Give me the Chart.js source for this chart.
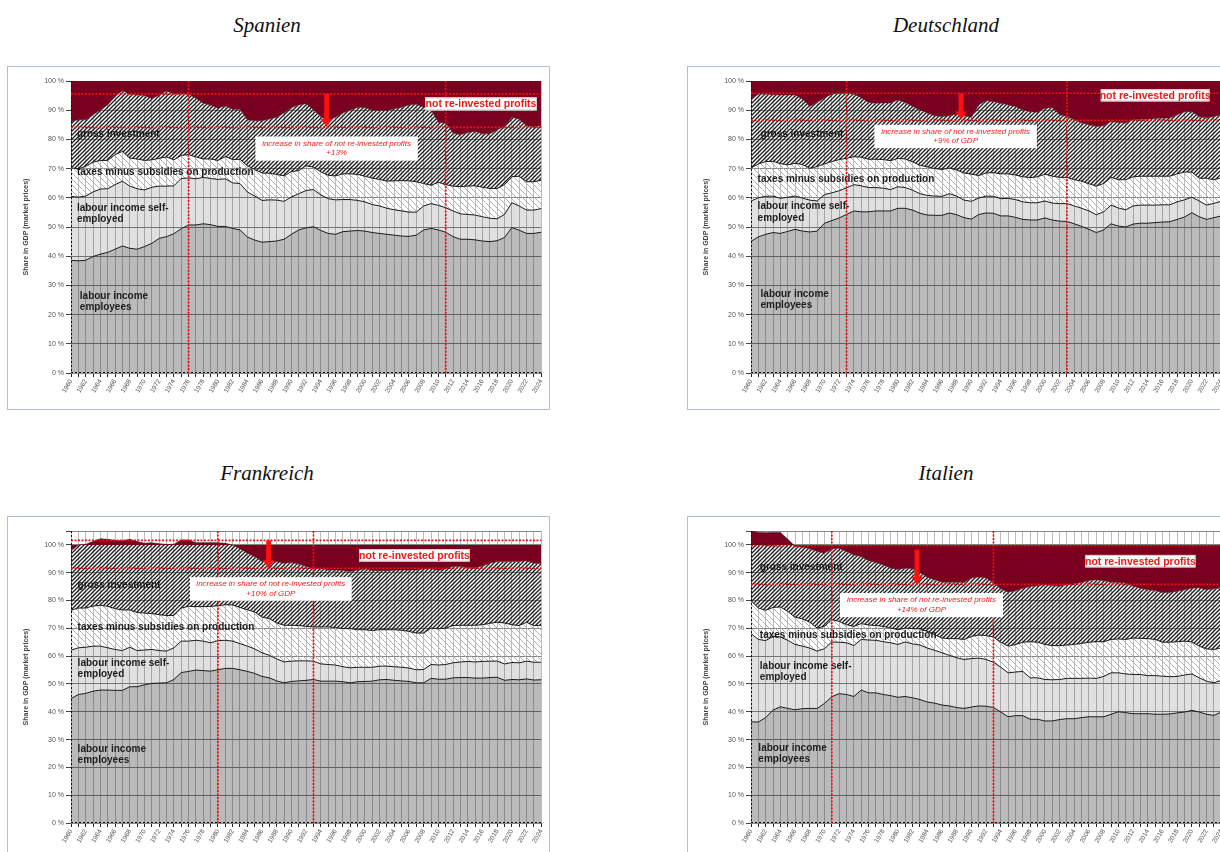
<!DOCTYPE html>
<html>
<head>
<meta charset="utf-8">
<script src="https://cdn.jsdelivr.net/npm/chart.js@4/dist/chart.umd.min.js"></script>
<style>
  html, body { margin: 0; padding: 0; background: #fff; width: 1220px; height: 852px; overflow: hidden; }
  .title { position: absolute; width: 300px; text-align: center; font-family: "Liberation Serif", "DejaVu Serif", serif; font-style: italic; font-size: 21px; color: #111; line-height: 24px; }
  .panel { position: absolute; width: 543px; height: 344px; box-sizing: border-box; border: 1px solid #aebfdc; background: #fff; }
  .panel canvas { display: block; }
</style>
</head>
<body>
<div class="title" style="left:117px; top:13px">Spanien</div>
<div class="title" style="left:796px; top:13px">Deutschland</div>
<div class="title" style="left:117px; top:461px">Frankreich</div>
<div class="title" style="left:796px; top:461px">Italien</div>

<div class="panel" style="left:7px; top:66px"><canvas id="cES" width="541" height="342"></canvas></div>
<div class="panel" style="left:687px; top:66px"><canvas id="cDE" width="541" height="342"></canvas></div>
<div class="panel" style="left:7px; top:516px"><canvas id="cFR" width="541" height="342"></canvas></div>
<div class="panel" style="left:687px; top:516px"><canvas id="cIT" width="541" height="342"></canvas></div>

<script>
// years on the x axis
const years = [
  '1960','1961','1962','1963','1964','1965','1966','1967','1968','1969',
  '1970','1971','1972','1973','1974','1975','1976','1977','1978','1979',
  '1980','1981','1982','1983','1984','1985','1986','1987','1988','1989',
  '1990','1991','1992','1993','1994','1995','1996','1997','1998','1999',
  '2000','2001','2002','2003','2004','2005','2006','2007','2008','2009',
  '2010','2011','2012','2013','2014','2015','2016','2017','2018','2019',
  '2020','2021','2022','2023','2024'
];

// stack boundaries, % of GDP (cumulative from the bottom)
// Spanien
const esEmployees = [
  38.6,38.4,38.6,39.9,40.7,41.3,42.4,43.5,42.7,42.4,
  43.3,44.4,46.1,46.7,47.7,49.4,50.7,50.7,51.1,50.8,
  50.2,50.2,49.5,49.0,46.6,45.5,44.8,45.0,45.2,45.8,
  47.5,49.0,49.7,50.1,48.8,47.8,47.5,48.4,48.6,48.8,
  48.6,48.1,47.8,47.5,47.2,46.9,46.8,47.2,49.0,49.5,
  49.0,48.2,46.7,45.8,45.8,45.6,45.2,45.0,45.3,46.4,
  49.8,48.9,47.8,47.8,48.2
];
const esSelfEmployed = [
  60.5,60.2,60.6,62.0,63.0,63.1,64.5,65.7,64.0,63.1,
  62.7,63.6,64.0,64.0,64.1,66.6,66.8,66.5,67.0,66.6,
  66.3,66.5,65.1,64.9,62.0,60.6,59.1,59.3,59.2,58.8,
  60.3,61.4,62.5,62.8,61.0,59.7,59.3,59.4,59.4,59.1,
  58.6,57.7,57.2,56.4,55.9,55.5,55.1,55.1,57.2,58.0,
  57.4,56.6,55.5,54.5,54.3,54.1,53.5,53.0,52.8,54.3,
  58.3,57.2,55.8,55.8,56.3
];
const esTaxes = [
  70.3,69.9,70.8,72.2,72.8,72.8,74.8,75.9,73.6,73.3,
  72.8,73.0,73.5,74.0,73.0,74.5,74.8,74.0,73.3,73.3,
  72.8,74.1,73.1,73.2,71.0,69.7,68.5,68.4,68.0,67.5,
  69.0,69.3,71.0,70.5,68.9,67.7,67.5,68.2,68.2,68.0,
  67.4,66.7,66.3,65.7,65.8,65.9,65.8,65.5,64.9,64.3,
  65.3,64.5,64.0,63.8,64.0,64.1,63.6,63.2,63.2,64.5,
  67.2,67.4,65.5,65.5,66.0
];
const esInvestment = [
  86.1,86.7,86.7,88.4,90.1,91.8,94.7,96.7,95.5,95.2,
  95.0,93.9,95.2,96.6,95.5,95.5,95.5,94.1,92.4,91.8,
  90.7,91.5,90.3,90.3,86.7,86.4,86.4,87.0,87.6,89.0,
  90.9,91.8,92.2,90.1,87.8,86.4,87.6,89.0,90.1,90.9,
  90.9,90.1,89.9,89.9,90.5,91.0,91.8,92.0,91.0,90.1,
  85.8,85.6,82.2,81.6,82.4,82.7,81.9,81.9,83.3,84.4,
  87.6,86.9,84.7,84.4,84.7
];

// Deutschland
const deEmployees = [
  45.1,46.6,47.5,48.1,47.8,48.5,49.2,48.6,48.3,48.6,
  51.3,52.2,53.1,54.3,55.5,55.2,55.2,55.5,55.5,55.5,
  56.4,56.4,55.8,54.7,54.1,54.0,54.0,54.8,54.2,53.2,
  52.7,54.3,54.8,54.7,53.8,53.8,53.3,52.6,52.4,52.4,
  53.1,52.4,52.0,51.9,51.1,50.2,49.2,48.1,49.0,51.1,
  50.3,50.0,51.0,51.3,51.3,51.5,51.7,51.8,52.6,53.4,
  54.9,53.5,52.6,53.2,53.8
];
const deSelfEmployed = [
  58.9,60.0,60.5,60.6,59.8,60.2,60.6,59.9,59.2,58.9,
  61.1,61.7,62.4,63.4,64.5,64.1,63.5,63.5,63.3,62.8,
  63.8,63.5,62.6,61.4,60.8,60.6,60.5,61.4,60.6,59.2,
  58.8,59.9,60.6,60.5,59.7,59.8,59.4,58.6,58.3,58.3,
  58.9,58.2,58.0,58.0,57.2,56.4,55.5,54.2,55.2,57.5,
  56.5,55.9,57.2,57.5,57.5,57.5,57.6,57.6,58.6,59.3,
  60.2,58.9,57.5,58.1,58.8
];
const deTaxes = [
  70.2,71.6,72.4,72.5,71.7,71.3,71.8,71.4,70.1,70.7,
  71.6,72.4,73.1,73.5,74.1,73.9,73.2,73.2,73.1,72.7,
  73.5,73.3,72.3,71.1,70.6,70.0,69.7,70.2,69.5,68.5,
  68.1,67.6,68.5,68.6,68.2,68.2,67.8,67.2,66.9,67.2,
  68.1,67.4,67.0,67.0,66.2,65.7,64.8,64.0,64.9,67.0,
  66.2,66.2,67.2,67.4,67.4,67.4,67.4,67.4,68.2,68.8,
  68.8,66.7,66.7,66.2,66.8
];
const deInvestment = [
  93.8,95.5,95.5,95.3,95.2,95.2,95.2,93.8,91.3,92.6,
  94.3,95.5,95.8,95.8,95.5,94.3,92.6,92.4,92.5,92.5,
  93.5,92.6,91.3,90.1,89.0,88.1,87.8,88.1,88.6,88.1,
  87.6,91.8,93.3,92.9,92.4,91.8,91.3,90.1,89.5,89.3,
  90.7,90.9,88.4,87.8,86.7,85.6,85.0,84.4,84.7,86.1,
  85.8,85.6,86.7,86.9,86.9,87.2,87.3,87.3,88.4,89.5,
  89.5,87.8,87.3,87.8,88.4
];

// Frankreich
const frEmployees = [
  44.7,46.2,46.6,47.4,47.8,47.8,47.7,47.7,49.0,49.0,
  49.7,50.2,50.3,50.4,51.6,54.1,54.5,55.0,54.8,54.6,
  55.1,55.6,55.6,55.1,54.5,53.8,52.7,52.2,51.1,50.4,
  50.9,51.1,51.3,51.6,51.0,51.0,51.0,50.8,50.4,50.8,
  50.9,51.0,51.5,51.6,51.3,51.1,50.9,50.4,50.4,52.0,
  51.7,51.7,52.2,52.3,52.3,52.1,52.1,52.3,52.4,51.3,
  51.6,51.5,51.8,51.4,51.5
];
const frSelfEmployed = [
  62.1,63.0,63.2,63.6,63.6,63.0,62.4,62.0,63.2,62.0,
  62.2,62.4,62.0,61.8,63.0,65.4,65.4,65.7,65.4,64.8,
  65.6,65.7,65.4,64.5,63.6,62.6,61.2,60.3,59.0,57.9,
  58.2,58.3,58.3,58.2,57.2,57.0,56.8,56.2,55.8,56.0,
  56.0,56.0,56.4,56.4,56.2,56.0,55.7,55.1,55.2,57.0,
  56.8,57.0,57.6,57.9,58.1,57.9,58.1,58.2,58.2,57.2,
  57.7,57.6,58.2,57.8,57.8
];
const frTaxes = [
  76.5,77.3,77.3,78.0,78.3,77.9,77.1,76.6,76.6,75.7,
  75.5,75.3,74.9,74.6,74.6,77.3,77.9,77.8,77.8,77.9,
  78.1,78.5,78.4,77.5,76.7,75.9,74.0,73.5,71.9,71.1,
  71.1,71.0,70.7,70.5,70.5,70.5,70.3,69.9,69.9,69.5,
  69.5,69.2,69.5,69.5,69.5,69.3,68.9,68.3,68.3,70.1,
  69.8,70.1,71.0,71.1,71.1,71.1,71.3,71.8,72.2,71.9,
  71.3,71.0,72.2,71.0,71.1
];
const frInvestment = [
  97.8,100.0,100.2,101.2,102.2,102.0,101.6,101.5,102.0,101.2,
  100.6,100.8,100.4,100.2,100.2,101.8,101.8,100.8,100.8,100.8,
  100.8,100.6,100.0,98.6,97.0,95.8,94.0,93.8,94.0,93.4,
  93.7,93.1,92.2,91.4,91.4,91.0,91.0,90.8,90.4,91.0,
  91.3,90.8,90.7,90.7,90.9,91.0,91.0,91.0,91.3,91.4,
  90.8,91.4,92.2,92.2,91.8,91.8,92.4,93.4,94.0,94.0,
  94.0,94.0,94.3,93.4,93.2
];

// Italien
const itEmployees = [
  36.4,36.3,37.9,40.6,41.8,41.2,40.7,41.1,41.2,41.2,
  43.0,45.4,46.5,46.2,45.5,47.8,46.8,46.8,46.2,45.8,
  45.2,45.5,45.0,44.4,43.5,43.1,42.4,42.1,41.5,41.2,
  41.7,42.1,42.0,41.5,39.9,38.2,38.6,38.6,37.3,37.3,
  36.7,36.7,37.2,37.5,37.5,37.9,38.2,38.2,38.2,39.1,
  40.0,39.7,39.3,39.3,39.3,39.1,39.1,39.2,39.6,39.9,
  40.5,39.9,39.1,38.7,39.9
];
const itSelfEmployed = [
  68.1,66.0,65.6,67.1,66.9,65.7,64.2,63.6,62.9,61.8,
  62.7,65.1,65.0,64.8,63.8,66.0,65.8,65.7,65.2,64.8,
  64.2,65.1,64.4,64.0,62.9,62.1,61.2,60.3,59.4,58.8,
  59.1,59.3,58.8,57.8,56.0,54.0,54.3,54.5,52.2,52.2,
  51.6,51.5,51.6,52.0,52.0,52.0,52.1,52.0,52.7,54.0,
  54.0,53.6,53.4,53.4,53.0,53.0,52.8,52.6,52.7,53.2,
  53.6,52.2,51.0,50.4,51.3
];
const itTaxes = [
  79.9,77.3,76.5,77.5,77.7,76.1,74.0,73.4,72.2,70.1,
  70.7,73.1,72.5,71.3,70.7,71.7,71.2,71.0,70.7,70.1,
  69.5,70.1,69.9,69.8,68.9,67.7,66.5,66.3,66.3,66.0,
  67.1,67.6,67.4,66.9,65.0,63.6,64.2,65.0,65.2,65.0,
  64.2,63.8,63.8,64.0,64.2,64.6,65.0,65.2,65.2,66.0,
  66.2,66.0,66.5,66.4,66.3,66.0,65.0,65.0,65.2,65.4,
  65.1,63.6,62.6,62.4,63.0
];
const itInvestment = [
  105.1,104.5,104.4,104.5,104.5,102.0,99.5,99.2,98.6,97.6,
  97.0,98.6,98.8,97.6,96.4,95.8,94.3,93.8,92.8,91.6,
  91.2,91.6,91.4,90.1,88.3,87.5,86.6,86.6,86.6,86.5,
  88.1,88.5,88.1,86.3,84.2,83.0,83.5,84.4,85.0,85.3,
  85.7,85.4,85.1,85.7,86.0,86.5,87.2,87.5,87.1,86.6,
  86.5,86.3,85.1,84.4,83.9,83.6,82.9,82.9,83.3,83.9,
  84.4,84.6,83.9,84.2,84.5
];

// annotation placement (x in years, y in %)
const esNotes = {
  hLines: [95.6, 84.1], vLines: [1976, 2011],
  arrow: { x: 1994.8, y0: 95.6, y1: 84.3 },
  note: { x0: 1985.1, x1: 2007.2, y0: 81.0, y1: 72.7, text: ['increase in share of not re-invested profits', '+13%'] },
  profits: { x0: 2008.2, x1: 2023.4, y0: 94.4, y1: 89.9 },
  labels: [
    { x: 1960.8, y: 81.9, t: 'gross investment' },
    { x: 1960.8, y: 68.9, t: 'taxes minus subsidies on production' },
    { x: 1960.8, y: 56.4, t: 'labour income self-' },
    { x: 1960.8, y: 52.6, t: 'employed' },
    { x: 1961.2, y: 26.3, t: 'labour income' },
    { x: 1961.2, y: 22.5, t: 'employees' }
  ]
};
const deNotes = {
  hLines: [95.8, 86.5], vLines: [1973, 2003],
  arrow: { x: 1988.6, y0: 95.8, y1: 86.8 },
  note: { x0: 1976.8, x1: 1998.9, y0: 85.0, y1: 77.0, text: ['increase in share of not re-invested profits', '+9% of GDP'] },
  profits: { x0: 2007.6, x1: 2022.4, y0: 97.2, y1: 93.0 },
  labels: [
    { x: 1961.3, y: 81.9, t: 'gross investment' },
    { x: 1960.9, y: 66.3, t: 'taxes minus subsidies on production' },
    { x: 1960.9, y: 57.0, t: 'labour income self-' },
    { x: 1960.9, y: 53.1, t: 'employed' },
    { x: 1961.3, y: 26.9, t: 'labour income' },
    { x: 1961.3, y: 23.1, t: 'employees' }
  ]
};
const frNotes = {
  hLines: [101.6, 91.6], vLines: [1980, 1993],
  arrow: { x: 1986.9, y0: 101.6, y1: 91.6 },
  note: { x0: 1976.2, x1: 1998.2, y0: 88.4, y1: 79.9, text: ['increase in share of not re-invested profits', '+10% of GDP'] },
  profits: { x0: 1999.2, x1: 2014.3, y0: 98.5, y1: 94.0 },
  labels: [
    { x: 1960.9, y: 85.4, t: 'gross investment' },
    { x: 1960.9, y: 70.4, t: 'taxes minus subsidies on production' },
    { x: 1960.9, y: 57.5, t: 'labour income self-' },
    { x: 1960.9, y: 53.5, t: 'employed' },
    { x: 1960.9, y: 26.6, t: 'labour income' },
    { x: 1960.9, y: 22.6, t: 'employees' }
  ]
};
const itNotes = {
  hLines: [99.7, 85.8], vLines: [1971, 1993],
  arrow: { x: 1982.6, y0: 98.3, y1: 85.8 },
  note: { x0: 1972.1, x1: 1994.3, y0: 82.7, y1: 74.0, text: ['increase in share of not re-invested profits', '+14% of GDP'] },
  profits: { x0: 2005.5, x1: 2020.5, y0: 96.4, y1: 91.9 },
  labels: [
    { x: 1961.2, y: 92.0, t: 'gross investment' },
    { x: 1961.2, y: 67.5, t: 'taxes minus subsidies on production' },
    { x: 1961.2, y: 56.3, t: 'labour income self-' },
    { x: 1961.2, y: 52.3, t: 'employed' },
    { x: 1961.0, y: 26.9, t: 'labour income' },
    { x: 1961.0, y: 22.9, t: 'employees' }
  ]
};

const SANS = '"Liberation Sans", Arial, sans-serif';

// diagonal hatch tiles
function hatch(color, size, lw, dir) {
  const c = document.createElement('canvas');
  c.width = size; c.height = size;
  const g = c.getContext('2d');
  g.strokeStyle = color;
  g.lineWidth = lw;
  g.beginPath();
  if (dir > 0) {
    g.moveTo(-1, size + 1); g.lineTo(size + 1, -1);
    g.moveTo(-1, 1); g.lineTo(1, -1);
    g.moveTo(size - 1, size + 1); g.lineTo(size + 1, size - 1);
  } else {
    g.moveTo(-1, -1); g.lineTo(size + 1, size + 1);
    g.moveTo(size - 1, -1); g.lineTo(size + 1, 1);
    g.moveTo(-1, size - 1); g.lineTo(1, size + 1);
  }
  g.stroke();
  return g.createPattern(c, 'repeat');
}
const investHatch = hatch('#1e1e1e', 4, 1.3, 1);
const taxHatch = hatch('#b0b0b0', 6, 1, -1);

// red dashes, arrow, text boxes and area labels
const notesPlugin = {
  id: 'notes',
  afterDatasetsDraw(chart, args, o) {
    const ctx = chart.ctx, xs = chart.scales.x, ys = chart.scales.y, area = chart.chartArea;
    const X = yr => xs.getPixelForValue(yr - 1960);
    const Y = v => ys.getPixelForValue(v);
    ctx.save();

    // dashed plot edges at the left and bottom
    ctx.strokeStyle = '#111';
    ctx.lineWidth = 1;
    ctx.setLineDash([2, 2]);
    ctx.beginPath();
    ctx.moveTo(area.left + 0.5, area.top); ctx.lineTo(area.left + 0.5, area.bottom);
    ctx.moveTo(area.left, area.bottom - 0.5); ctx.lineTo(area.right, area.bottom - 0.5);
    ctx.stroke();
    ctx.setLineDash([]);

    ctx.fillStyle = '#1c1c1c';
    ctx.font = 'bold 10px ' + SANS;
    ctx.textBaseline = 'middle';
    ctx.textAlign = 'left';
    o.labels.forEach(l => ctx.fillText(l.t, X(l.x), Y(l.y)));

    ctx.strokeStyle = '#ee1111';
    ctx.lineWidth = 1.7;
    ctx.setLineDash([2, 1.5]);
    o.hLines.forEach(v => {
      ctx.beginPath(); ctx.moveTo(area.left, Y(v)); ctx.lineTo(area.right, Y(v)); ctx.stroke();
    });
    o.vLines.forEach(yr => {
      ctx.beginPath(); ctx.moveTo(X(yr), area.top); ctx.lineTo(X(yr), area.bottom); ctx.stroke();
    });
    ctx.setLineDash([]);

    // explanation box
    const n = o.note;
    ctx.fillStyle = '#fff';
    ctx.fillRect(X(n.x0), Y(n.y0), X(n.x1) - X(n.x0), Y(n.y1) - Y(n.y0));
    ctx.fillStyle = '#f02020';
    ctx.font = 'italic 8px ' + SANS;
    ctx.textAlign = 'center';
    const cx = (X(n.x0) + X(n.x1)) / 2, cy = (Y(n.y0) + Y(n.y1)) / 2;
    ctx.fillText(n.text[0], cx, cy - 5);
    ctx.fillText(n.text[1], cx, cy + 4.5);

    // "not re-invested profits" box
    const p = o.profits;
    const px0 = X(p.x0), py0 = Y(p.y0), pw = X(p.x1) - px0, ph = Y(p.y1) - py0;
    ctx.fillStyle = '#fff';
    ctx.fillRect(px0, py0, pw, ph);
    ctx.strokeStyle = '#c9c9c9';
    ctx.lineWidth = 1;
    ctx.strokeRect(px0 + 0.5, py0 + 0.5, pw - 1, ph - 1);
    ctx.fillStyle = '#f01818';
    ctx.font = 'bold 10.5px ' + SANS;
    ctx.fillText('not re-invested profits', px0 + pw / 2, py0 + ph / 2 + 0.5);

    // arrow
    const a = o.arrow, ax = X(a.x), ay0 = Y(a.y0), ay1 = Y(a.y1);
    ctx.fillStyle = '#ff1010';
    ctx.fillRect(ax - 2.5, ay0, 5, ay1 - ay0 - 7);
    ctx.beginPath();
    ctx.moveTo(ax - 6, ay1 - 8);
    ctx.lineTo(ax + 6, ay1 - 8);
    ctx.lineTo(ax, ay1);
    ctx.closePath();
    ctx.fill();

    ctx.restore();
  }
};

function makeChart(id, employees, selfEmployed, taxes, investment, yMax, notes) {
  const line = { borderColor: '#1a1a1a', borderWidth: 1, pointRadius: 0, tension: 0 };
  new Chart(document.getElementById(id), {
    type: 'line',
    data: {
      labels: years,
      datasets: [
        Object.assign({ label: 'labour income employees', data: employees, fill: 'origin', backgroundColor: 'rgba(0,0,0,0.27)' }, line),
        Object.assign({ label: 'labour income self-employed', data: selfEmployed, fill: '-1', backgroundColor: 'rgba(0,0,0,0.12)' }, line),
        Object.assign({ label: 'taxes minus subsidies on production', data: taxes, fill: '-1', backgroundColor: taxHatch }, line),
        { label: 'gross investment', data: investment, fill: '-1', backgroundColor: investHatch,
          borderColor: '#3a3a3a', borderWidth: 0.6, pointRadius: 0, tension: 0 },
        { label: 'not re-invested profits', data: investment, fill: { value: 100 }, backgroundColor: '#7a001f',
          borderWidth: 0, pointRadius: 0, tension: 0, order: -1 }
      ]
    },
    options: {
      responsive: false,
      animation: false,
      events: [],
      layout: { padding: { top: 14, right: 4, left: 0, bottom: 0 } },
      plugins: {
        legend: { display: false },
        tooltip: { enabled: false },
        notes: notes
      },
      scales: {
        x: {
          grid: { color: 'rgba(0,0,0,0.26)', lineWidth: 1, tickLength: 4, tickColor: '#222' },
          border: { display: false },
          ticks: {
            autoSkip: false, maxRotation: 60, minRotation: 60, padding: 1,
            color: '#555', font: { size: 6.5, family: SANS },
            callback: function (v, i) { return i % 2 === 0 ? years[i] : ''; }
          },
          afterFit: s => { s.height = 36; }
        },
        y: {
          min: 0, max: yMax,
          grid: { color: '#858585', lineWidth: 1, tickLength: 5, tickColor: '#444' },
          border: { display: false },
          ticks: {
            stepSize: 10, padding: 2, color: '#555', font: { size: 7, family: SANS },
            callback: v => v <= 100 ? v + ' %' : ''
          },
          title: {
            display: true, text: 'Share in GDP (market prices)', color: '#444',
            font: { size: 7, weight: 'bold', family: SANS }, padding: { top: 14, bottom: 0 }
          },
          afterFit: s => { s.width = 63; }
        }
      }
    },
    plugins: [notesPlugin]
  });
}

makeChart('cES', esEmployees, esSelfEmployed, esTaxes, esInvestment, 100, esNotes);
makeChart('cDE', deEmployees, deSelfEmployed, deTaxes, deInvestment, 100, deNotes);
makeChart('cFR', frEmployees, frSelfEmployed, frTaxes, frInvestment, 105, frNotes);
makeChart('cIT', itEmployees, itSelfEmployed, itTaxes, itInvestment, 105, itNotes);
</script>
</body>
</html>
